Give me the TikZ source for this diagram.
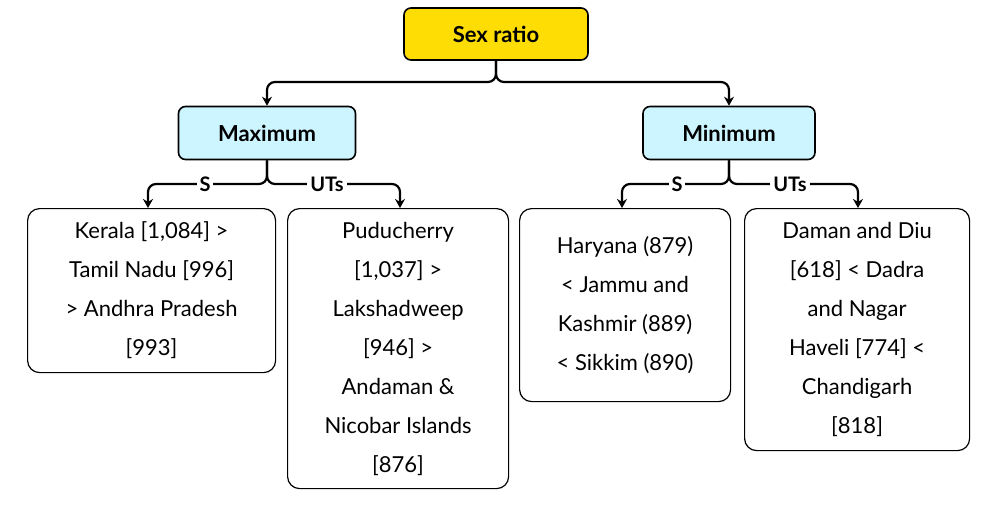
\documentclass[tikz,border=0pt]{standalone}
\usepackage{fontspec}
\setmainfont{Lato}
\usetikzlibrary{arrows.meta}

\begin{document}
\begin{tikzpicture}[x=1pt,y=-1pt,line width=2.2pt,
  head/.style={draw=black,line width=1.6pt,rounded corners=7pt,font=\bfseries\fontsize{22}{26}\selectfont},
  leaf/.style={draw=black,line width=1.2pt,rounded corners=12pt,align=center,anchor=north west,
    inner sep=0pt,font=\fontsize{22}{39}\selectfont},
  tag/.style={fill=white,inner sep=3pt,font=\bfseries\fontsize{20}{24}\selectfont},
  arr/.style={-{Stealth[length=9pt,width=10pt]},rounded corners=8pt}]
\useasboundingbox (0,0) rectangle (982,504);
\node[head,fill=yellow!80!orange,minimum width=184pt,minimum height=52pt] (sex) at (496,34) {Sex ratio};
\node[head,fill=blue!20!cyan!20,minimum width=177pt,minimum height=53pt] (max) at (267,133) {Maximum};
\node[head,fill=blue!20!cyan!20,minimum width=172pt,minimum height=53pt] (min) at (729,133) {Minimum};
\node[leaf,minimum width=248pt,minimum height=164pt] (kerala) at (27,208) {Kerala [1,084] >\\Tamil Nadu [996]\\> Andhra Pradesh\\{}[993]};
\node[leaf,minimum width=221pt,minimum height=280pt] (pudu) at (287,208) {Puducherry\\{}[1,037] >\\Lakshadweep\\{}[946] >\\Andaman \&\\Nicobar Islands\\{}[876]};
\node[leaf,minimum width=211pt,minimum height=193pt] (hary) at (519,208) {Haryana (879)\\< Jammu and\\Kashmir (889)\\< Sikkim (890)};
\node[leaf,minimum width=225pt,minimum height=242pt] (daman) at (744,208) {Daman and Diu\\{}[618] < Dadra\\and Nagar\\Haveli [774] <\\Chandigarh\\{}[818]};
% top branch
\draw[arr] (sex.south) |- (496,82) -| (max.north);
\draw[arr] (sex.south) |- (496,82) -| (min.north);
% maximum branch
\draw[arr] (max.south) |- (267,184) -| (148,208);
\draw[arr] (max.south) |- (267,184) -| (400,208);
\node[tag] (maxs) at (205,184) {S};
\node[tag] (maxu) at (327,184) {UTs};
% minimum branch
\draw[arr] (min.south) |- (729,184) -| (622,208);
\draw[arr] (min.south) |- (729,184) -| (858,208);
\node[tag] (mins) at (677,184) {S};
\node[tag] (minu) at (790,184) {UTs};
\end{tikzpicture}
\end{document}
